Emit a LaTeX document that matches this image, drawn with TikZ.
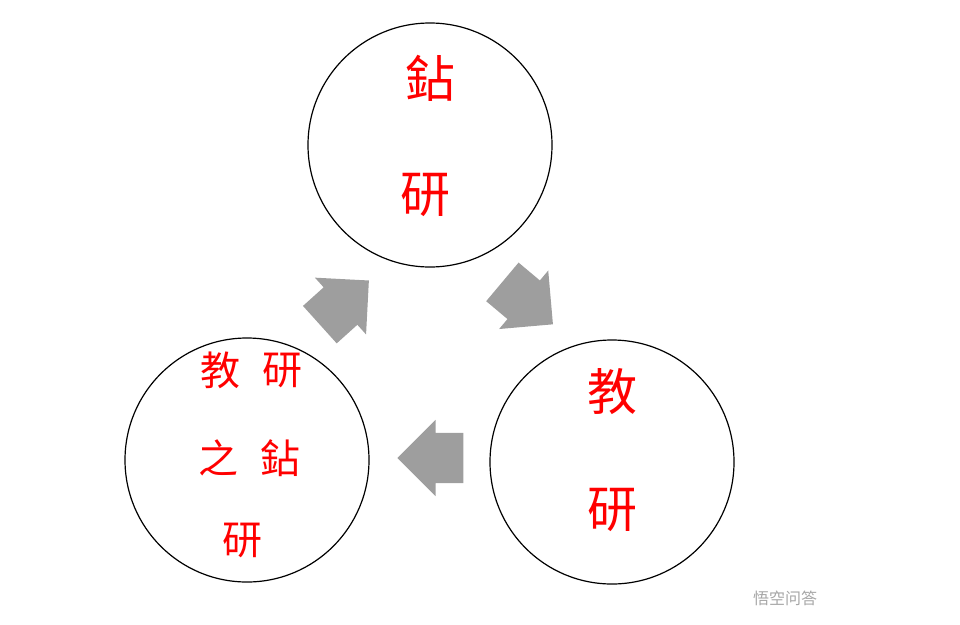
\documentclass[tikz,border=0pt]{standalone}
\usepackage{fontspec}
\newfontfamily\cjk{Noto Sans CJK TC}
\usetikzlibrary{shapes.arrows}
\tikzset{
  ring/.style={draw, line width=1.2pt, circle, minimum size=244pt},
  word/.style={text=red, font=\cjk\fontsize{50}{50}\selectfont},
  smallword/.style={text=red, font=\cjk\fontsize{40}{40}\selectfont},
  blockarrow/.style={single arrow, fill=black!38, draw=none,
    single arrow head extend=13pt, single arrow head indent=0pt,
    minimum height=66pt, inner xsep=0pt, inner ysep=25pt}
}
\begin{document}
\begin{tikzpicture}[x=1pt,y=-1pt]
\useasboundingbox (0,0) rectangle (960,624);
% circles
\node[ring] (top) at (430,145) {};
\node[ring] (right) at (612,462) {};
\node[ring] (left) at (247,460) {};
% texts
\node[word] (t1) at (430,78) {鉆};
\node[word] (t2) at (425,195) {研};
\node[word] (r1) at (612,392) {教};
\node[word] (r2) at (612,510) {研};
\node[smallword] (l1) at (220,370) {教};
\node[smallword] (l2) at (282,370) {研};
\node[smallword] (l3) at (218,458) {之};
\node[smallword] (l4) at (280,458) {鉆};
\node[smallword] (l5) at (242,540) {研};
% arrows
\node[blockarrow, rotate=180] (aleft) at (443,458) {};
\node[blockarrow, rotate=42] (aup) at (335,311) {};
\node[blockarrow, rotate=-40] (adown) at (518,295) {};
% watermark
\node[text=black!35, font=\cjk\fontsize{16}{16}\selectfont] (mark) at (785,598) {悟空问答};
\end{tikzpicture}
\end{document}
